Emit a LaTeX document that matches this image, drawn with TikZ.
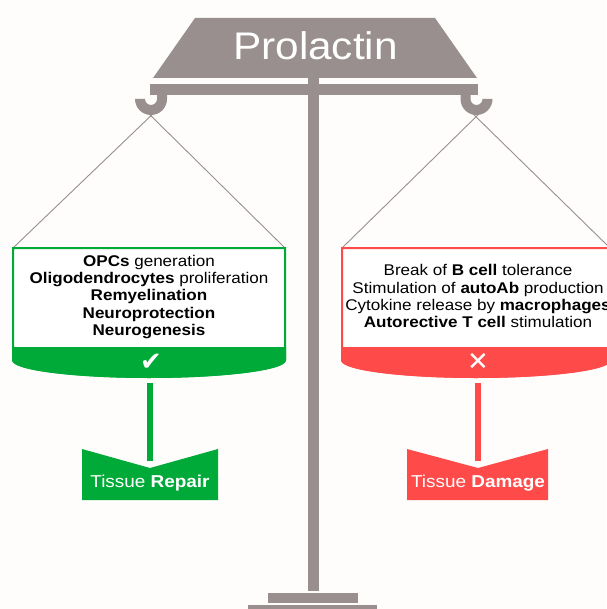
\documentclass[tikz,border=0pt]{standalone}
\usepackage{fontspec}
\setmainfont[FakeStretch=1.1]{Liberation Sans}
\newfontfamily\symfont{DejaVu Sans}
\definecolor{bgc}{RGB}{254,253,251}
\definecolor{scalegray}{RGB}{152,143,142}
\definecolor{okgreen}{RGB}{0,170,56}
\definecolor{badred}{RGB}{255,74,74}
\tikzset{
  txt/.style={anchor=base, inner sep=0pt, font=\fontsize{15.5}{17.4}\selectfont},
  banner/.style={anchor=base, inner sep=0pt, text=white, font=\fontsize{17.2}{20}\selectfont},
  sym/.style={inner sep=0pt, text=white, font=\symfont\fontsize{26}{28}\selectfont},
  string/.style={draw=scalegray, line width=0.9pt},
  stem/.style={line width=5.5pt},
}
\begin{document}
\begin{tikzpicture}[x=1pt,y=-1pt]
\useasboundingbox (0,0) rectangle (606,609);
\fill[bgc] (0,0) rectangle (606,609);

% strings (drawn first, hooks cover their ends)
\coordinate (lpanTL) at (13,248);
\coordinate (lpanTR) at (285,248);
\coordinate (rpanTL) at (342,248);
\coordinate (rpanTR) at (610,248);
\coordinate (lhookA) at (159,108);
\coordinate (lhookB) at (143,108);
\coordinate (rhookA) at (485,108);
\coordinate (rhookB) at (467,108);
\draw[string] (lpanTL) -- (lhookA);
\draw[string] (lpanTR) -- (lhookB);
\draw[string] (rpanTL) -- (rhookA);
\draw[string] (rpanTR) -- (rhookB);

% scale body
\fill[scalegray] (195,18) -- (435,18) -- (477,78) -- (153,78) -- cycle;
\node[inner sep=0pt, anchor=base, text=white, font=\fontsize{38.5}{40}\selectfont] (title) at (315.5,60) {Prolactin};
\fill[scalegray] (150,84) rectangle (478,95);
\fill[scalegray] (308,78) rectangle (319,591);
\fill[scalegray] (268,593) rectangle (358,603);
\fill[scalegray] (248,605) rectangle (377,612);

% hooks
\fill[scalegray] (135,99) arc[start angle=180, end angle=0, radius=16] -- (167,90) -- (157,90) -- (157,99) arc[start angle=0, end angle=180, radius=6] -- cycle;
\fill[scalegray] (460.5,99) arc[start angle=180, end angle=0, radius=16] -- (482.5,99) arc[start angle=0, end angle=180, radius=6] -- (470.5,90) -- (460.5,90) -- cycle;

% left pan
\filldraw[draw=okgreen, fill=white, line width=2pt] (lpanTL) -- (lpanTR) -- (285,360) .. controls (285,369.4) and (224,377) .. (149,377) .. controls (74,377) and (13,369.4) .. (13,360) -- cycle;
\fill[okgreen] (12,347) -- (286,347) -- (286,360) .. controls (286,369.9) and (224.5,378) .. (149,378) .. controls (73.5,378) and (12,369.9) .. (12,360) -- cycle;
\node[sym] (check) at (151,362) {✔};

\node[txt] (l1) at (149,266) {\textbf{OPCs} generation};
\node[txt] (l2) at (149,283.4) {\textbf{Oligodendrocytes} proliferation};
\node[txt] (l3) at (149,300.8) {\textbf{Remyelination}};
\node[txt] (l4) at (149,318.2) {\textbf{Neuroprotection}};
\node[txt] (l5) at (149,335.6) {\textbf{Neurogenesis}};

% right pan
\filldraw[draw=badred, fill=white, line width=2pt] (rpanTL) -- (rpanTR) -- (610,360) .. controls (610,369.4) and (550,377) .. (476,377) .. controls (402,377) and (342,369.4) .. (342,360) -- cycle;
\fill[badred] (341,347) -- (611,347) -- (611,360) .. controls (611,369.9) and (550.5,378) .. (476,378) .. controls (401.5,378) and (341,369.9) .. (341,360) -- cycle;
\node[sym] (cross) at (478,362) {✕};

\node[txt] (r1) at (478,275.7) {Break of \textbf{B cell} tolerance};
\node[txt] (r2) at (478,293.1) {Stimulation of \textbf{autoAb} production};
\node[txt] (r3) at (478,310.5) {Cytokine release by \textbf{macrophages}};
\node[txt] (r4) at (478,327.9) {\textbf{Autorective T cell} stimulation};

% outcome banners
\coordinate (lstemtop) at (150,383);
\coordinate (lstembot) at (150,461);
\coordinate (rstemtop) at (478,383);
\coordinate (rstembot) at (478,461);
\draw[stem, okgreen] (lstemtop) -- (lstembot);
\draw[stem, badred] (rstemtop) -- (rstembot);
\fill[okgreen] (82,449) -- (150,468) -- (218,449) -- (218,500) -- (82,500) -- cycle;
\fill[badred] (407,449) -- (478,468) -- (548,449) -- (548,500) -- (407,500) -- cycle;
\node[banner] (repair) at (150,487) {Tissue \textbf{Repair}};
\node[banner] (damage) at (478,487) {Tissue \textbf{Damage}};
\end{tikzpicture}
\end{document}
